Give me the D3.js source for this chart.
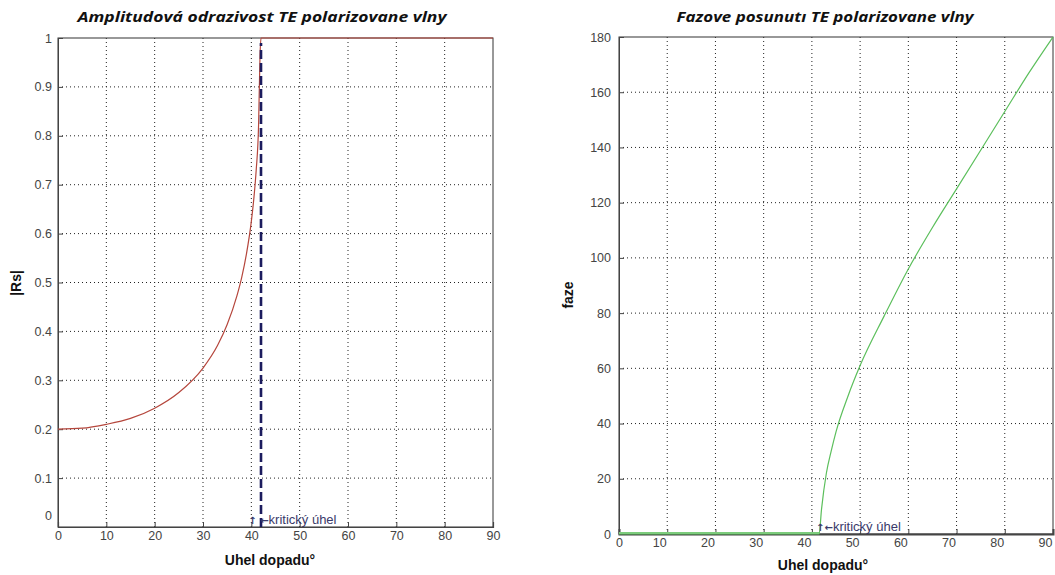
<!DOCTYPE html>
<html>
<head>
<meta charset="utf-8">
<script src="https://cdn.jsdelivr.net/npm/d3@7"></script>
<style>
  body { margin: 0; background: #fff; }
  .tick text { font-family: "Liberation Sans", Arial, sans-serif; font-size: 12.5px; fill: #444; }
  .grid line { stroke: #222; stroke-dasharray: 1,3; stroke-width: 1; }
  .note { font-family: "Liberation Sans", Arial, sans-serif; font-size: 13px; fill: #3a3a6a; }
</style>
</head>
<body>
<div id="chart"></div>
<script>
// Amplitude |Rs|
var ampAngles = [0, 5, 10, 15, 20, 25, 30, 33, 35, 37, 38, 39, 40, 40.5, 41, 41.5, 41.8, 42, 90];
var ampValues = [0.2, 0.202, 0.21, 0.222, 0.243, 0.275, 0.325, 0.371, 0.414, 0.472, 0.51, 0.559, 0.625, 0.67, 0.729, 0.822, 0.965, 1, 1];

// Phase shift (degrees)
var phaseAngles = [0, 41.5, 42, 43, 44, 45, 47.5, 50, 55, 60, 65, 70, 75, 80, 85, 90];
var phaseValues = [0, 0, 9, 22, 30, 37, 50, 61, 79, 96, 111, 125, 139, 153, 167, 180];

var criticalAngle = 42;
var xTicks = [0, 10, 20, 30, 40, 50, 60, 70, 80, 90];
var ampTicks = [0, 0.1, 0.2, 0.3, 0.4, 0.5, 0.6, 0.7, 0.8, 0.9, 1];
var phaseTicks = [0, 20, 40, 60, 80, 100, 120, 140, 160, 180];

var width = 1055, height = 575;

var svg = d3.select('#chart').append('svg')
    .attr('width', width)
    .attr('height', height);

function drawPanel(opts) {
    var x = d3.scaleLinear().domain([0, 90]).range([opts.left, opts.right]);
    var y = d3.scaleLinear().domain(opts.yDomain).range([opts.bottom, opts.top]);
    var g = svg.append('g');

    // grid
    g.append('g').attr('class', 'grid')
        .selectAll('line').data(xTicks.slice(1, -1)).enter().append('line')
        .attr('x1', x).attr('x2', x).attr('y1', opts.top).attr('y2', opts.bottom);
    g.append('g').attr('class', 'grid')
        .selectAll('line').data(opts.yTicks.slice(1, -1)).enter().append('line')
        .attr('x1', opts.left).attr('x2', opts.right).attr('y1', y).attr('y2', y);

    // box
    g.append('rect')
        .attr('x', opts.left).attr('y', opts.top)
        .attr('width', opts.right - opts.left).attr('height', opts.bottom - opts.top)
        .attr('fill', 'none').attr('stroke', '#333').attr('stroke-width', 1);

    // axes
    var xAxis = g.append('g')
        .attr('transform', 'translate(0,' + opts.bottom + ')')
        .call(d3.axisBottom(x).tickValues(xTicks).tickSize(-5).tickPadding(opts.xPad));
    xAxis.select('.domain').attr('stroke', '#444').attr('stroke-width', opts.axisWidth);
    xAxis.selectAll('.tick line').attr('stroke', '#444');
    xAxis.selectAll('.tick text').attr('dx', function (d) { return d === 0 ? 0 : opts.xShift; });

    var yAxis = g.append('g')
        .attr('transform', 'translate(' + opts.left + ',0)')
        .call(d3.axisLeft(y).tickValues(opts.yTicks).tickSize(-5).tickPadding(opts.yPad)
            .tickFormat(opts.yFormat));
    yAxis.select('.domain').attr('stroke', '#444');
    yAxis.selectAll('.tick line').attr('stroke', '#444');
    yAxis.selectAll('.tick text').attr('dy', function (d) { return d === 0 && opts.zeroUp ? '-0.6em' : '0.32em'; });

    // titles
    g.append('text')
        .attr('x', opts.titleX).attr('y', 22)
        .attr('text-anchor', 'middle')
        .attr('textLength', opts.titleLen).attr('lengthAdjust', 'spacingAndGlyphs')
        .style('font-family', '"Open Sans", sans-serif').style('font-weight', 'bold')
        .style('font-style', 'italic').style('font-size', '15px').style('fill', '#111')
        .text(opts.title);
    g.append('text')
        .attr('x', opts.xLabelX).attr('y', opts.xLabelY)
        .attr('text-anchor', 'middle')
        .style('font-family', '"Liberation Sans", Arial, sans-serif').style('font-weight', 'bold')
        .style('font-size', '14px').style('fill', '#111')
        .text('Uhel dopadu°');
    g.append('text')
        .attr('transform', 'translate(' + opts.yLabelX + ',' + opts.yLabelY + ') rotate(-90)')
        .attr('text-anchor', 'middle')
        .style('font-family', '"Liberation Sans", Arial, sans-serif').style('font-weight', 'bold')
        .style('font-size', '14px').style('fill', '#111')
        .text(opts.yLabel);

    return { g: g, x: x, y: y };
}

function addNote(panel, xPos, arrows) {
    var t = panel.g.append('text').attr('class', 'note')
        .attr('x', xPos).attr('y', panel.y(0) - 3);
    t.append('tspan').style('font-family', '"DejaVu Sans", sans-serif')
        .style('font-size', '10px').style('font-weight', 'bold').text(arrows);
    t.append('tspan').text('kritický úhel');
}

// Left panel: amplitude
var left = drawPanel({
    left: 58, right: 493, top: 38, bottom: 527,
    yDomain: [0, 1], yTicks: ampTicks, yFormat: d3.format('~g'),
    xPad: 4, yPad: 6, xShift: 0, axisWidth: 1.2, zeroUp: true,
    title: 'Amplitudová odrazivost TE polarizovane vlny', titleX: 262, titleLen: 369,
    xLabelX: 270, xLabelY: 565, yLabel: '|Rs|', yLabelX: 21, yLabelY: 283
});

var ampLine = d3.line()
    .curve(d3.curveMonotoneX)
    .x(function (d, i) { return left.x(ampAngles[i]); })
    .y(function (d) { return left.y(d); });
left.g.append('path')
    .attr('d', ampLine(ampValues))
    .attr('fill', 'none').attr('stroke', '#b5463c').attr('stroke-width', 1.2);

left.g.append('line')
    .attr('x1', left.x(criticalAngle)).attr('x2', left.x(criticalAngle))
    .attr('y1', left.y(0)).attr('y2', left.y(0.99))
    .attr('stroke', '#1c1c5e').attr('stroke-width', 2.6).attr('stroke-dasharray', '9,4');

addNote(left, left.x(40) - 3, '↑ ←');

// Right panel: phase
var right = drawPanel({
    left: 619, right: 1053, top: 37, bottom: 534,
    yDomain: [0, 180], yTicks: phaseTicks, yFormat: d3.format('d'),
    xPad: 4, yPad: 8, xShift: -8, axisWidth: 2, zeroUp: false,
    title: 'Fazove posunutı TE polarizovane vlny', titleX: 825, titleLen: 297,
    xLabelX: 823, xLabelY: 570, yLabel: 'faze', yLabelX: 573, yLabelY: 295
});

var phaseLine = d3.line()
    .curve(d3.curveMonotoneX)
    .x(function (d, i) { return right.x(phaseAngles[i]); })
    .y(function (d) { return right.y(d); });
right.g.append('path')
    .attr('d', phaseLine(phaseValues))
    .attr('fill', 'none').attr('stroke', '#5cbf5c').attr('stroke-width', 1.2);
right.g.append('line')
    .attr('x1', right.x(0)).attr('x2', right.x(41.5))
    .attr('y1', right.y(0) - 1).attr('y2', right.y(0) - 1)
    .attr('stroke', '#7ccc7c').attr('stroke-width', 2);

addNote(right, right.x(41.5) - 3, '↑←');
</script>
</body>
</html>
